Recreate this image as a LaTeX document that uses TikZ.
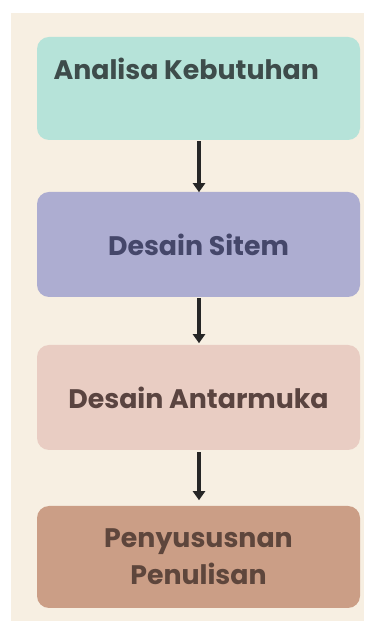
\documentclass[tikz,border=0pt]{standalone}
\usepackage{fontspec}
\setmainfont{Poppins}
\usetikzlibrary{arrows.meta}
\definecolor{bgbeige}{HTML}{F7EFE2}
\definecolor{cteal}{HTML}{B6E3D9}
\definecolor{clav}{HTML}{ADADD1}
\definecolor{cpink}{HTML}{E9CDC3}
\definecolor{cbrown}{HTML}{CB9E86}
\definecolor{txtA}{HTML}{3E4C4B}
\definecolor{txtB}{HTML}{45476A}
\definecolor{txtC}{HTML}{5A4440}
\definecolor{txtD}{HTML}{5E463C}
\tikzset{
  stagebox/.style={rounded corners=12pt, minimum width=323pt, inner sep=0pt, draw=none},
  stagetxt/.style={font=\fontsize{26.8}{37}\selectfont\bfseries, align=center},
  flowarrow/.style={-{Triangle[width=12pt,length=9pt]}, line width=3.2pt, draw=black!85}
}
\begin{document}
\begin{tikzpicture}[x=1pt,y=1pt]
\useasboundingbox (0,0) rectangle (370,621);
\fill[white] (0,0) rectangle (370,621);
\fill[bgbeige] (11,0) rectangle (364,608);
% boxes (y flipped: y_tikz = 621 - y)
\node[stagebox, fill=cteal, minimum height=103pt] (b1) at (198.5,532.5) {};
\node[stagetxt, text=txtA, anchor=west] (t1) at (50,552) {Analisa Kebutuhan};
\node[stagebox, fill=clav, minimum height=105pt, stagetxt, text=txtB] (b2) at (198.5,376.5) {Desain Sitem};
\node[stagebox, fill=cpink, minimum height=105pt, stagetxt, text=txtC] (b3) at (198.5,223.5) {Desain Antarmuka};
\node[stagebox, fill=cbrown, minimum height=102pt, stagetxt, text=txtD] (b4) at (198.5,64) {Penyususnan\\Penulisan};
\draw[flowarrow] (b1.south) ++(0.5,-1) coordinate (a1s) -- ++(0,-51);
\draw[flowarrow] (b2.south) ++(0.5,-1) coordinate (a2s) -- ++(0,-45);
\draw[flowarrow] (b3.south) ++(0.5,-2) coordinate (a3s) -- ++(0,-48);
\end{tikzpicture}
\end{document}
